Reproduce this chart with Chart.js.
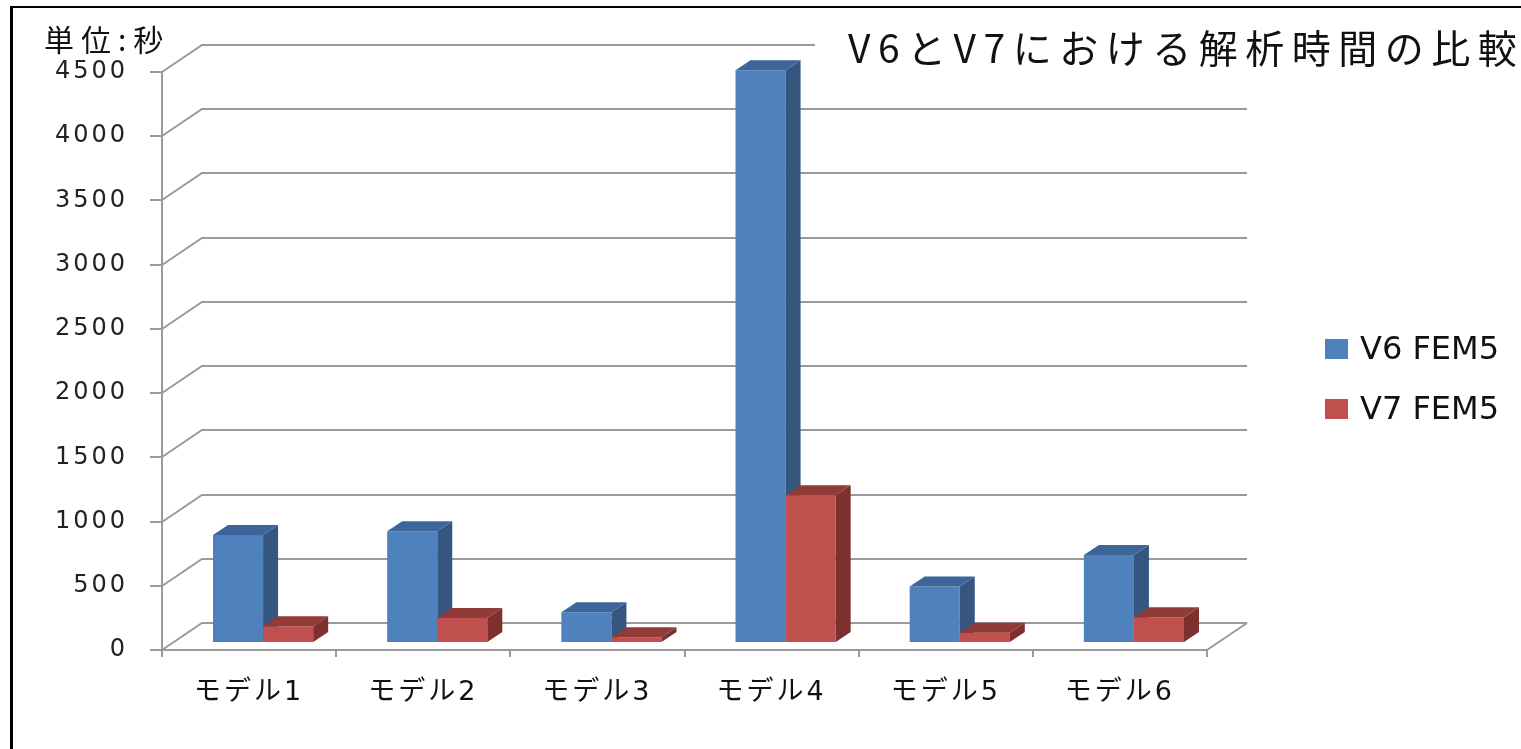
<!DOCTYPE html>
<html lang="ja">
<head>
<meta charset="utf-8">
<title>V6とV7における解析時間の比較</title>
<script src="https://cdn.jsdelivr.net/npm/chart.js@4.4.1/dist/chart.umd.min.js"></script>
<style>
  html, body { margin: 0; padding: 0; background: #fff; }
  body { width: 1521px; height: 749px; position: relative; overflow: hidden; }
  #frame { position: absolute; left: 10px; top: 6px; width: 1600px; height: 800px;
           border-left: 3px solid #000; border-top: 2px solid #000; }
  #chart { position: absolute; left: 0; top: 0; }
  .txt { position: absolute; white-space: nowrap; color: #111; }
  #unit { left: 44px; top: 19px; font: 30px "Noto Sans CJK JP", sans-serif; letter-spacing: 7px; line-height: 38px; }
  #title { left: 815px; top: 22px; padding-left: 33px; padding-right: 20px; background: #fff;
           font: 39px "Noto Sans CJK JP", sans-serif; letter-spacing: 7.5px; line-height: 48px; }
  #legend { position: absolute; left: 1325px; top: 332px; }
  .item { position: relative; height: 60px; width: 190px; }
  .swatch { position: absolute; left: 0; top: 7px; width: 23px; height: 20px; }
  .label { position: absolute; left: 35px; top: -4px; white-space: nowrap;
           font: 32px "DejaVu Sans", sans-serif; color: #111; line-height: 40px; }
</style>
</head>
<body>
<div id="frame"></div>
<canvas id="chart" width="1521" height="749"></canvas>
<div class="txt" id="unit">単位:秒</div>
<div class="txt" id="title">V6とV7における解析時間の比較</div>
<div id="legend"></div>
<script>
// データ
const models = ["モデル1", "モデル2", "モデル3", "モデル4", "モデル5", "モデル6"];
const v6Times = [840, 870, 240, 4460, 440, 685];
const v7Times = [130, 195, 45, 1150, 80, 200];
const seriesNames = ["V6 FEM5", "V7 FEM5"];
const yTickValues = [0, 500, 1000, 1500, 2000, 2500, 3000, 3500, 4000, 4500];

const gridColor = "#9a9a9a";
const wallX = 40, wallY = 27;   // 奥行き（床）
const planeX = 14, planeY = 7;  // 棒の位置
const depthX = 15, depthY = 10; // 棒の厚み

// 3D風の壁と棒
const box3d = {
  id: "box3d",
  beforeDraw(chart) {
    chart.ctx.letterSpacing = "3px";
  },
  beforeDatasetsDraw(chart) {
    const { ctx, chartArea, scales } = chart;
    const y = scales.y;
    ctx.save();
    ctx.strokeStyle = gridColor;
    ctx.lineWidth = 2;
    y.ticks.forEach(function (t) {
      const py = Math.round(y.getPixelForValue(t.value));
      ctx.beginPath();
      ctx.moveTo(chartArea.left, py);
      ctx.lineTo(chartArea.left + wallX, py - wallY);
      ctx.lineTo(chartArea.right + wallX, py - wallY);
      ctx.stroke();
    });
    const p0 = Math.round(y.getPixelForValue(0));
    ctx.beginPath();
    ctx.moveTo(chartArea.right, p0);
    ctx.lineTo(chartArea.right + wallX, p0 - wallY);
    ctx.stroke();
    ctx.restore();
  },
  // 既定の描画は止めて、系列順（V6 → V7）で描く
  beforeDatasetDraw() {
    return false;
  },
  afterDatasetsDraw(chart) {
    const ctx = chart.ctx;
    ctx.save();
    ctx.translate(planeX, -planeY);
    chart.data.datasets.forEach(function (ds, i) {
      const meta = chart.getDatasetMeta(i);
      meta.data.forEach(function (bar) {
        bar.draw(ctx);
        const p = bar.getProps(["x", "y", "base", "width"], true);
        const l = p.x - p.width / 2;
        const r = p.x + p.width / 2;
        // 側面
        ctx.fillStyle = ds.sideColor;
        ctx.beginPath();
        ctx.moveTo(r, p.y);
        ctx.lineTo(r + depthX, p.y - depthY);
        ctx.lineTo(r + depthX, p.base - depthY);
        ctx.lineTo(r, p.base);
        ctx.closePath();
        ctx.fill();
        // 上面
        ctx.fillStyle = ds.topColor;
        ctx.beginPath();
        ctx.moveTo(l, p.y);
        ctx.lineTo(l + depthX, p.y - depthY);
        ctx.lineTo(r + depthX, p.y - depthY);
        ctx.lineTo(r, p.y);
        ctx.closePath();
        ctx.fill();
      });
    });
    ctx.restore();
  },
};

const datasets = [
  {
    label: seriesNames[0],
    data: v6Times,
    backgroundColor: "#4f81bd",
    sideColor: "#34567f",
    topColor: "#3c659a",
  },
  {
    label: seriesNames[1],
    data: v7Times,
    backgroundColor: "#c0504d",
    sideColor: "#7d302e",
    topColor: "#913a37",
  },
];

const chart = new Chart(document.getElementById("chart"), {
  type: "bar",
  data: {
    labels: models,
    datasets: datasets.map(function (d) {
      return Object.assign({ barPercentage: 1, categoryPercentage: 0.575, borderWidth: 0 }, d);
    }),
  },
  options: {
    responsive: false,
    animation: false,
    devicePixelRatio: 1,
    layout: { padding: { top: 72, right: 314, left: 0, bottom: 0 } },
    plugins: {
      legend: { display: false },
      title: { display: false },
      tooltip: { enabled: false },
    },
    scales: {
      x: {
        grid: { drawOnChartArea: false, tickLength: 7, color: gridColor, lineWidth: 2, offset: true },
        border: { color: gridColor, width: 2 },
        ticks: {
          padding: 20,
          maxRotation: 0,
          color: "#111",
          font: { size: 27, family: "'DejaVu Sans', 'Noto Sans CJK JP', sans-serif" },
        },
        afterFit(scale) {
          scale.height = 99;
        },
      },
      y: {
        min: 0,
        max: 4500,
        afterBuildTicks(scale) {
          scale.ticks = yTickValues.map(function (v) { return { value: v }; });
        },
        grid: { drawOnChartArea: false, tickLength: 12, color: gridColor, lineWidth: 2 },
        border: { color: gridColor, width: 2 },
        ticks: {
          padding: 22,
          color: "#222",
          font: { size: 24, family: "'DejaVu Sans', sans-serif" },
          callback: function (value) {
            return String(value);
          },
        },
        afterFit(scale) {
          scale.width = 162;
        },
      },
    },
  },
  plugins: [box3d],
});

// 凡例
const legend = document.getElementById("legend");
datasets.forEach(function (d) {
  const item = document.createElement("div");
  item.className = "item";
  item.innerHTML =
    '<span class="swatch" style="background:' + d.backgroundColor + '"></span>' +
    '<span class="label">' + d.label + "</span>";
  legend.appendChild(item);
});
</script>
</body>
</html>
